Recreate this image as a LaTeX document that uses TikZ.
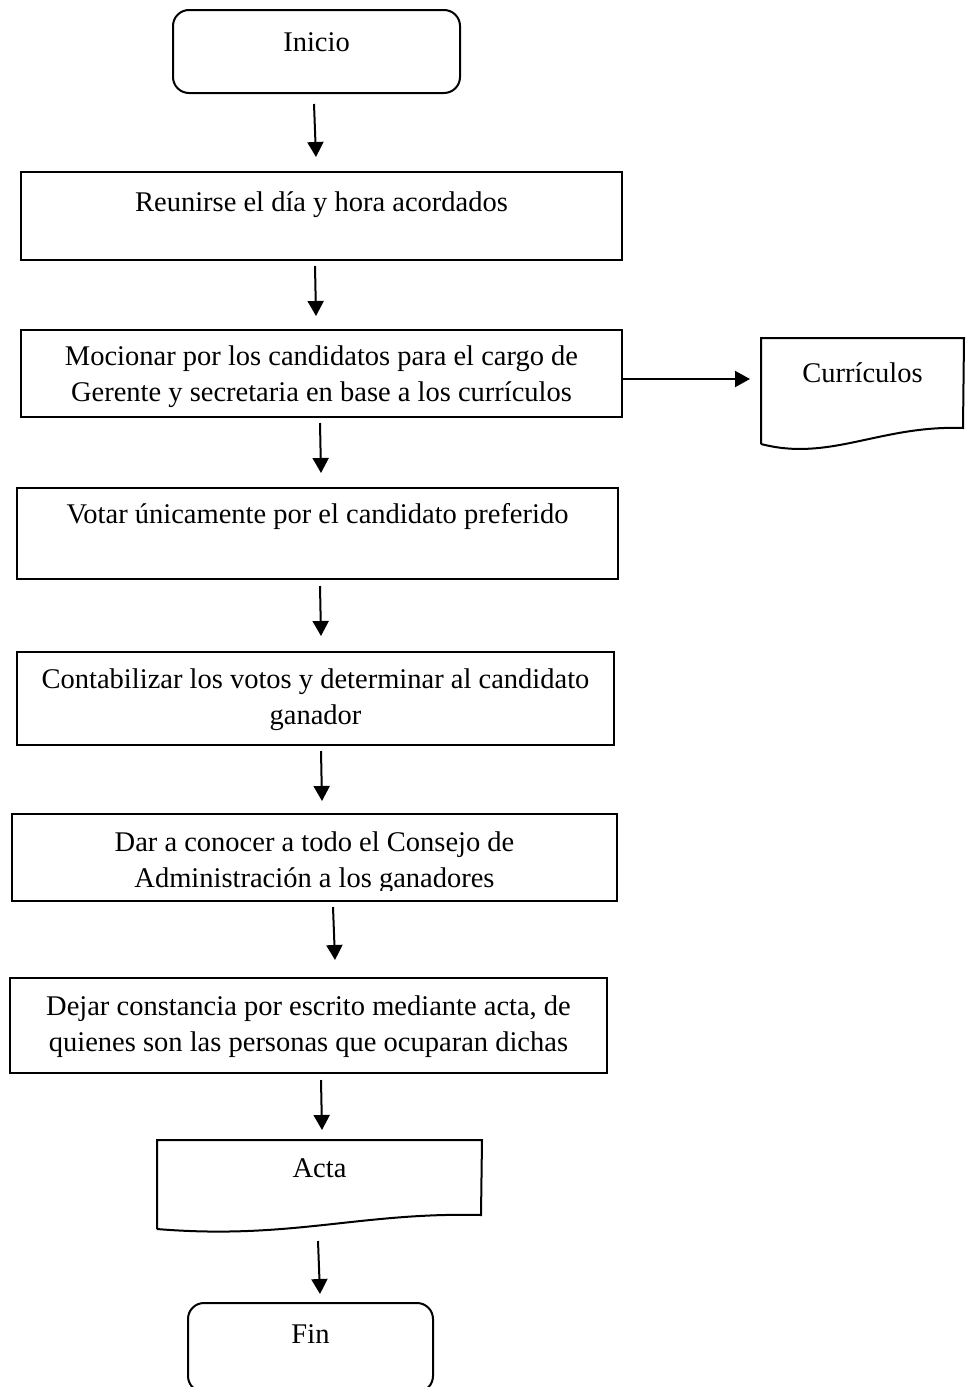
\documentclass[tikz,border=0pt]{standalone}
\usepackage{fontspec}
\setmainfont{Liberation Serif}
\usetikzlibrary{arrows.meta}
\begin{document}
\begin{tikzpicture}[x=1pt,y=-1pt,
  every node/.style={font=\fontsize{28.5}{36}\selectfont},
  procbox/.style={draw, line width=2pt, inner xsep=0pt, inner ysep=0pt, align=center},
  termbox/.style={procbox, rounded corners=16pt},
  arr/.style={line width=2pt, -{Triangle[length=15pt,width=16pt]}},
  docline/.style={line width=2pt, line join=miter}]
\clip (0,0) rectangle (970,1387);
\fill[white] (0,0) rectangle (970,1387);

% nodes
\node[termbox, minimum width=287pt, text height=41pt, text depth=42pt] (ini) at (316.5,51.5) {Inicio};
\node[procbox, minimum width=601pt, text height=39pt, text depth=49pt] (b2) at (321.5,216) {Reunirse el día y hora acordados};
\node[procbox, minimum width=601pt, text height=71pt, text depth=16pt] (b3) at (321.5,373.5) {Mocionar por los candidatos para el cargo de\\Gerente y secretaria en base a los currículos};
\node[procbox, draw=none, minimum width=201pt, text height=43pt, text depth=61pt] (cur) at (862.5,391) {Currículos};
\node[procbox, minimum width=601pt, text height=35pt, text depth=56pt] (b4) at (317.5,533.5) {Votar únicamente por el candidato preferido};
\node[procbox, minimum width=597pt, text height=72pt, text depth=21pt] (b5) at (315.5,698.5) {Contabilizar los votos y determinar al candidato\\ganador};
\begin{scope}
\clip (0,0) rectangle (970,890);
\node[procbox, draw=none, minimum width=603pt, text height=72pt, text depth=13pt] (b6) at (314.5,857.5) {Dar a conocer a todo el Consejo de\\Administración a los ganadores};
\end{scope}
\draw[line width=2pt] (b6.north west) rectangle (b6.south east);
\node[procbox, minimum width=597pt, text height=73pt, text depth=22pt] (b7) at (308.5,1025.5) {Dejar constancia por escrito mediante acta, de\\quienes son las personas que ocuparan dichas};
\node[procbox, draw=none, minimum width=323pt, text height=36pt, text depth=51pt] (acta) at (319.5,1184.5) {Acta};
\node[termbox, minimum width=245pt, text height=40pt, text depth=49pt] (fin) at (310.5,1347.5) {Fin};

% document outlines
\draw[docline] (cur.south west) -- (cur.north west) -- (cur.north east) -- (963,428)
  .. controls (880,425) and (830,462) .. (cur.south west);
\draw[docline] (acta.south west) -- (acta.north west) -- (acta.north east) -- (481,1215)
  .. controls (360,1212) and (290,1240) .. (acta.south west);

% connector ends
\coordinate (a1s) at (314,104); \coordinate (a1e) at (316,157);
\coordinate (a2s) at (315,266); \coordinate (a2e) at (316,316);
\coordinate (a3s) at (320,423); \coordinate (a3e) at (321,473);
\coordinate (a4s) at (320,586); \coordinate (a4e) at (321,636);
\coordinate (a5s) at (321,751); \coordinate (a5e) at (322,801);
\coordinate (a6s) at (333,907); \coordinate (a6e) at (335,960);
\coordinate (a7s) at (321,1080); \coordinate (a7e) at (322,1130);
\coordinate (a8s) at (318,1241); \coordinate (a8e) at (320,1294);
\coordinate (hs) at (622,379); \coordinate (he) at (750,379);

\draw[arr] (a1s) -- (a1e);
\draw[arr] (a2s) -- (a2e);
\draw[arr] (a3s) -- (a3e);
\draw[arr] (a4s) -- (a4e);
\draw[arr] (a5s) -- (a5e);
\draw[arr] (a6s) -- (a6e);
\draw[arr] (a7s) -- (a7e);
\draw[arr] (a8s) -- (a8e);
\draw[arr] (hs) -- (he);
\end{tikzpicture}
\end{document}
